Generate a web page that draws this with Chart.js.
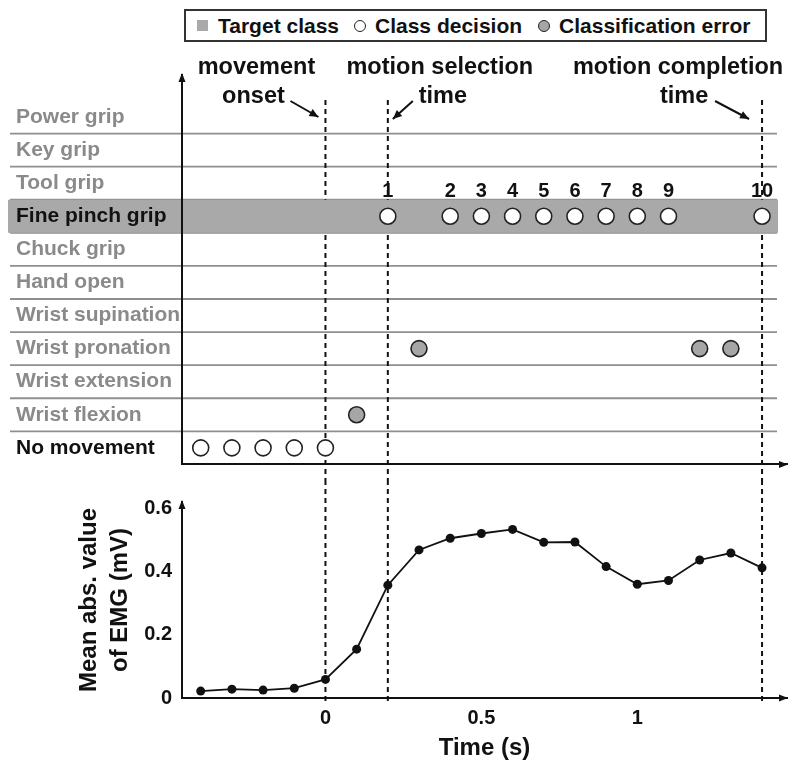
<!DOCTYPE html>
<html>
<head>
<meta charset="utf-8">
<script src="https://cdn.jsdelivr.net/npm/chart.js@4.4.1/dist/chart.umd.min.js"></script>
<style>
  body { margin: 0; background: #fff; }
  #wrap { position: relative; width: 788px; height: 767px; font-family: "Liberation Sans", Arial, sans-serif; }
  .legend {
    position: absolute; left: 184px; top: 9px; width: 583px; height: 33px; box-sizing: border-box;
    border: 2px solid #333; display: flex; align-items: center; padding-left: 11px;
    font-weight: bold; font-size: 21px; line-height: 1; color: #111; z-index: 2; background: #fff;
  }
  .legend .sq { width: 11px; height: 11px; background: #a9a9a9; margin-right: 10px; }
  .legend .dot { width: 12px; height: 12px; box-sizing: border-box; border: 1.6px solid #222; border-radius: 50%; margin: 0 9px 0 15px; }
  .legend .dot.err { background: #a6a6a6; margin-left: 16px; }
  .box { position: absolute; left: 0; width: 788px; }
</style>
</head>
<body>
<div id="wrap">
  <div class="legend">
    <span class="sq"></span><span>Target class</span>
    <span class="dot"></span><span>Class decision</span>
    <span class="dot err"></span><span>Classification error</span>
  </div>
  <div class="box" style="top:0;height:480px"><canvas id="classChart"></canvas></div>
  <div class="box" style="top:480px;height:287px"><canvas id="emgChart"></canvas></div>
</div>
<script>
// class labels, bottom row first
const categories = ['No movement', 'Wrist flexion', 'Wrist extension', 'Wrist pronation', 'Wrist supination',
  'Hand open', 'Chuck grip', 'Fine pinch grip', 'Tool grip', 'Key grip', 'Power grip'];
const targetClass = 'Fine pinch grip';
const restClass = 'No movement';

// one decision every 100 ms
const times = [-0.4, -0.3, -0.2, -0.1, 0, 0.1, 0.2, 0.3, 0.4, 0.5, 0.6, 0.7, 0.8, 0.9, 1.0, 1.1, 1.2, 1.3, 1.4];
const decisions = ['No movement', 'No movement', 'No movement', 'No movement', 'No movement',
  'Wrist flexion', 'Fine pinch grip', 'Wrist pronation', 'Fine pinch grip', 'Fine pinch grip',
  'Fine pinch grip', 'Fine pinch grip', 'Fine pinch grip', 'Fine pinch grip', 'Fine pinch grip',
  'Fine pinch grip', 'Wrist pronation', 'Wrist pronation', 'Fine pinch grip'];
const emg = [0.022, 0.028, 0.025, 0.031, 0.059, 0.155, 0.358, 0.47, 0.507, 0.522, 0.535,
  0.494, 0.495, 0.417, 0.361, 0.373, 0.438, 0.46, 0.413];

// movement onset, motion selection time, motion completion time
const eventTimes = [0, 0.2, 1.4];
const timeTicks = [0, 0.5, 1];
const emgTicks = [0, 0.2, 0.4, 0.6];

const FONT = '"Liberation Sans", Arial, sans-serif';
Chart.defaults.font.family = FONT;
Chart.defaults.color = '#111';

const targetIdx = categories.indexOf(targetClass);
const correctPts = [];
const errorPts = [];
times.forEach((t, i) => {
  const expected = t <= 0 ? restClass : targetClass;
  const pt = { x: t, y: categories.indexOf(decisions[i]) };
  (decisions[i] === expected ? correctPts : errorPts).push(pt);
});
const emgPts = times.map((t, i) => ({ x: t, y: emg[i] }));

function arrowHead(ctx, x, y, angle, len = 9, half = 3.5) {
  ctx.save();
  ctx.translate(x, y);
  ctx.rotate(angle);
  ctx.beginPath();
  ctx.moveTo(0, 0);
  ctx.lineTo(-len, -half);
  ctx.lineTo(-len, half);
  ctx.closePath();
  ctx.fill();
  ctx.restore();
}

function arrow(ctx, x1, y1, x2, y2) {
  ctx.beginPath();
  ctx.moveTo(x1, y1);
  ctx.lineTo(x2, y2);
  ctx.stroke();
  arrowHead(ctx, x2, y2, Math.atan2(y2 - y1, x2 - x1), 9, 4);
}

function axisArrows(chart) {
  const { ctx, chartArea } = chart;
  ctx.save();
  ctx.fillStyle = '#111';
  arrowHead(ctx, chartArea.left, chartArea.top - 2, -Math.PI / 2);
  arrowHead(ctx, chartArea.right + 1, chartArea.bottom, 0);
  ctx.restore();
}

// rows, event lines and target band, drawn under the axes
const classDecor = {
  id: 'classDecor',
  beforeDraw(chart) {
    const { ctx, chartArea, scales: { x, y } } = chart;
    ctx.save();
    ctx.strokeStyle = '#8f8f8f';
    ctx.lineWidth = 1.8;
    for (let i = 0; i < categories.length - 1; i++) {
      const py = y.getPixelForValue(i + 0.5);
      ctx.beginPath();
      ctx.moveTo(10, py);
      ctx.lineTo(chartArea.right - 10, py);
      ctx.stroke();
    }
    ctx.strokeStyle = '#111';
    ctx.lineWidth = 2;
    ctx.setLineDash([5, 4]);
    eventTimes.forEach(t => {
      const px = x.getPixelForValue(t);
      ctx.beginPath();
      ctx.moveTo(px, 100);
      ctx.lineTo(px, chart.height);
      ctx.stroke();
    });
    ctx.setLineDash([]);
    const top = y.getPixelForValue(targetIdx + 0.5);
    const bot = y.getPixelForValue(targetIdx - 0.5);
    ctx.fillStyle = '#a9a9a9';
    ctx.fillRect(8, top, chartArea.right - 9 - 8, bot - top);
    ctx.restore();
  },
  afterDraw(chart) {
    const { ctx, scales: { x } } = chart;
    axisArrows(chart);
    ctx.save();
    ctx.fillStyle = '#111';
    ctx.strokeStyle = '#111';
    ctx.lineWidth = 2;
    ctx.textAlign = 'center';
    ctx.textBaseline = 'middle';

    // numbering of the correct target decisions
    ctx.font = 'bold 20px ' + FONT;
    let n = 0;
    chart.getDatasetMeta(0).data.forEach((el, i) => {
      if (correctPts[i].y !== targetIdx) return;
      n++;
      ctx.fillText(String(n), el.x, el.y - 25);
    });

    // event annotations
    const [x0, xs, xc] = eventTimes.map(t => x.getPixelForValue(t));
    ctx.font = 'bold 23.5px ' + FONT;
    ctx.fillText('movement', x0 - 69, 68);
    ctx.fillText('onset', x0 - 72, 97);
    arrow(ctx, x0 - 35, 101, x0 - 7, 117);
    ctx.fillText('motion selection', xs + 52, 68);
    ctx.fillText('time', xs + 55, 97);
    arrow(ctx, xs + 25, 101, xs + 5, 119);
    ctx.fillText('motion completion', xc - 84, 68);
    ctx.fillText('time', xc - 78, 97);
    arrow(ctx, xc - 47, 101, xc - 13, 119);
    ctx.restore();
  }
};

new Chart(document.getElementById('classChart'), {
  type: 'scatter',
  data: {
    datasets: [
      {
        label: 'Class decision',
        data: correctPts,
        pointRadius: 8,
        pointBackgroundColor: '#fff',
        pointBorderColor: '#222',
        pointBorderWidth: 1.6,
      },
      {
        label: 'Classification error',
        data: errorPts,
        pointRadius: 8,
        pointBackgroundColor: '#a6a6a6',
        pointBorderColor: '#222',
        pointBorderWidth: 1.6,
      }
    ]
  },
  options: {
    animation: false,
    responsive: true,
    maintainAspectRatio: false,
    layout: { autoPadding: false, padding: { top: 75, bottom: 15, left: 16, right: 1 } },
    plugins: { legend: { display: false }, tooltip: { enabled: false } },
    scales: {
      x: {
        type: 'linear', min: -0.46, max: 1.48,
        ticks: { display: false },
        grid: { drawOnChartArea: false, drawTicks: false },
        border: { display: true, color: '#111', width: 2 },
        afterFit: s => { s.height = 0; }
      },
      y: {
        type: 'linear', min: -0.5, max: 11.27,
        afterBuildTicks: s => { s.ticks = categories.map((c, i) => ({ value: i })); },
        ticks: {
          crossAlign: 'far',
          font: { size: 21, weight: 'bold' },
          color: c => (c.tick && (c.tick.value === targetIdx || c.tick.value === 0)) ? '#111' : '#8a8a8a',
          callback: v => categories[v]
        },
        grid: { drawOnChartArea: false, drawTicks: false },
        border: { display: true, color: '#111', width: 2 },
        afterFit: s => { s.width = 166; }
      }
    }
  },
  plugins: [classDecor]
});

const emgDecor = {
  id: 'emgDecor',
  beforeDatasetsDraw(chart) {
    const { ctx, chartArea, scales: { x } } = chart;
    ctx.save();
    ctx.strokeStyle = '#111';
    ctx.lineWidth = 2;
    ctx.setLineDash([5, 4]);
    eventTimes.forEach(t => {
      const px = x.getPixelForValue(t);
      ctx.beginPath();
      ctx.moveTo(px, 0);
      ctx.lineTo(px, chartArea.bottom + 3);
      ctx.stroke();
    });
    ctx.restore();
  },
  afterDraw(chart) {
    axisArrows(chart);
  }
};

new Chart(document.getElementById('emgChart'), {
  type: 'scatter',
  data: {
    datasets: [{
      label: 'Mean abs. value of EMG',
      data: emgPts,
      showLine: true,
      borderColor: '#111',
      borderWidth: 1.8,
      tension: 0,
      pointRadius: 4.5,
      pointBackgroundColor: '#111',
      pointBorderColor: '#111',
      pointBorderWidth: 0,
    }]
  },
  options: {
    animation: false,
    responsive: true,
    maintainAspectRatio: false,
    layout: { autoPadding: false, padding: { top: 18, bottom: 0, left: 60, right: 1 } },
    plugins: { legend: { display: false }, tooltip: { enabled: false } },
    scales: {
      x: {
        type: 'linear', min: -0.46, max: 1.48,
        afterBuildTicks: s => { s.ticks = timeTicks.map(v => ({ value: v })); },
        ticks: { font: { size: 20, weight: 'bold' }, padding: 8, callback: v => String(v) },
        grid: { drawOnChartArea: false, drawTicks: false },
        border: { display: true, color: '#111', width: 2 },
        title: { display: true, text: 'Time (s)', font: { size: 24, weight: 'bold' }, padding: { top: 0, bottom: 4.6 } },
        afterFit: s => { s.height = 69; }
      },
      y: {
        type: 'linear', min: 0, max: 0.622,
        afterBuildTicks: s => { s.ticks = emgTicks.map(v => ({ value: v })); },
        ticks: { font: { size: 20, weight: 'bold' }, padding: 10, callback: v => String(v) },
        grid: { drawOnChartArea: false, drawTicks: false },
        border: { display: true, color: '#111', width: 2 },
        title: {
          display: true,
          text: ['Mean abs. value', 'of EMG (mV)'],
          font: { size: 24, weight: 'bold', lineHeight: 1.3 },
          padding: { top: 13.4, bottom: 0 }
        },
        afterFit: s => { s.width = 122; }
      }
    }
  },
  plugins: [emgDecor]
});
</script>
</body>
</html>
